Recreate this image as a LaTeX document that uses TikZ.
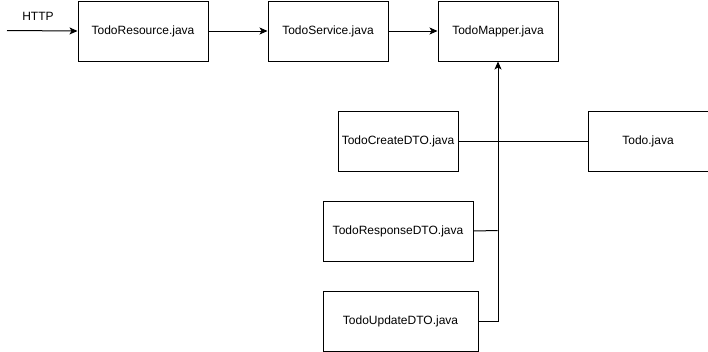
\documentclass[tikz,border=0pt]{standalone}
\usepackage{fontspec}
\setmainfont{Liberation Sans}
\usetikzlibrary{arrows.meta}
\begin{document}
\begin{tikzpicture}[x=1pt,y=-1pt,
  font=\fontsize{12}{14}\selectfont,
  filebox/.style={draw=black,line width=1pt,fill=white,inner sep=0pt,anchor=north west},
  link/.style={line width=1pt,draw=black},
  arrowlink/.style={link,-{Stealth[length=8pt,width=7pt,inset=2pt]}}]
\useasboundingbox (0,0) rectangle (708,351);
% source files
\node[filebox,minimum width=130pt,minimum height=60pt] (res) at (77.5,0.5) {TodoResource.java};
\node[filebox,minimum width=120pt,minimum height=60pt] (svc) at (267.5,0.5) {TodoService.java};
\node[filebox,minimum width=120pt,minimum height=60pt] (map) at (437.5,0.5) {TodoMapper.java};
\node[filebox,minimum width=120pt,minimum height=60pt] (create) at (337.5,110.5) {TodoCreateDTO.java};
\node[filebox,minimum width=120pt,minimum height=60pt] (todo) at (587.5,110.5) {Todo.java};
\node[filebox,minimum width=150pt,minimum height=60pt] (resp) at (322.5,200.5) {TodoResponseDTO.java};
\node[filebox,minimum width=155pt,minimum height=60pt] (upd) at (322.5,290.5) {TodoUpdateDTO.java};
% incoming request
\coordinate (in) at (7,30.5);
\node (http) at (38,16) {HTTP};
\draw[arrowlink] (in) -- (res.west);
\draw[arrowlink] (res.east) -- (svc.west);
\draw[arrowlink] (svc.east) -- (map.west);
% entity link
\draw[link] (create.east) -- (todo.west);
% DTOs feeding the mapper
\coordinate (bus) at (497.5,230.5);
\draw[link] (resp.east) -- (bus);
\draw[arrowlink] (upd.east) -| (map.south);
\end{tikzpicture}
\end{document}
